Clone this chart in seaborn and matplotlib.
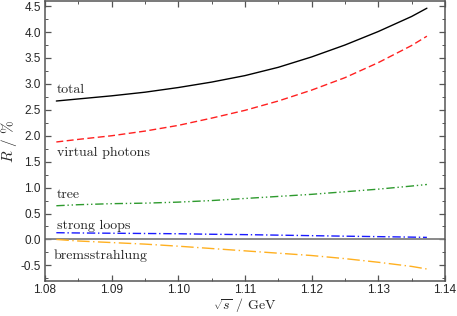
import numpy as np
import pandas as pd
import matplotlib
matplotlib.use("Agg")
import matplotlib.pyplot as plt
import seaborn as sns
from matplotlib.ticker import MultipleLocator

# sqrt(s) in GeV
sqrt_s = [1.0817, 1.085, 1.09, 1.095, 1.10, 1.105, 1.11, 1.115, 1.12, 1.125, 1.13, 1.135, 1.1373]

# R in percent
total = [2.67, 2.71, 2.77, 2.84, 2.93, 3.035, 3.16, 3.32, 3.52, 3.75, 4.01, 4.30, 4.46]
virtual_photons = [1.88, 1.93, 2.00, 2.09, 2.20, 2.34, 2.49, 2.67, 2.88, 3.12, 3.41, 3.74, 3.92]
tree = [0.65, 0.67, 0.69, 0.70, 0.72, 0.75, 0.79, 0.83, 0.87, 0.92, 0.97, 1.03, 1.06]
strong_loops = [0.13, 0.125, 0.12, 0.115, 0.11, 0.10, 0.093, 0.083, 0.073, 0.063, 0.054, 0.045, 0.04]
bremsstrahlung = [0.0, -0.03, -0.06, -0.09, -0.13, -0.175, -0.22, -0.265, -0.31, -0.37, -0.44, -0.52, -0.57]

series = [
    ("total", total, "black", "-", 2.88),
    ("virtual photons", virtual_photons, "#ff2020", (0, (5, 2.5)), 1.66),
    ("tree", tree, "#2e9a2e", (0, (6, 2, 1, 2, 1, 2)), 0.85),
    ("strong loops", strong_loops, "#1a1aff", (0, (6, 2, 1, 2)), 0.27),
    ("bremsstrahlung", bremsstrahlung, "#ffb020", (0, (9, 2.5, 1, 2.5)), -0.31),
]

sns.set_style("ticks")
plt.rcParams["mathtext.fontset"] = "cm"

fig = plt.figure(figsize=(4.57, 3.16), dpi=100)
ax = fig.add_axes([0.0985, 0.111, 0.875, 0.886])

ax.axhline(0, color="#808080", lw=1.3, zorder=1)

for name, vals, color, ls, label_y in series:
    df = pd.DataFrame({"x": sqrt_s, "y": vals})
    sns.lineplot(data=df, x="x", y="y", ax=ax, color=color, linestyle=ls,
                 lw=1.0, sort=False, errorbar=None, zorder=3)
    ax.text(1.0818 if name != "bremsstrahlung" else 1.0813, label_y, name,
            family="cmr10", fontsize=10, va="center", ha="left")

ax.set_xlim(1.08, 1.14)
ax.set_ylim(-0.8, 4.6)
ax.xaxis.set_major_locator(MultipleLocator(0.01))
ax.xaxis.set_minor_locator(MultipleLocator(0.005))
ax.yaxis.set_major_locator(MultipleLocator(0.5))
ax.yaxis.set_minor_locator(MultipleLocator(0.25))
ax.xaxis.set_major_formatter(matplotlib.ticker.FormatStrFormatter("%.2f"))
ax.yaxis.set_major_formatter(matplotlib.ticker.FuncFormatter(lambda v, p: f"{v:.1f}"))

ax.tick_params(which="both", direction="in", top=True, right=True,
               color="#555555", labelsize=8.5, pad=3)
ax.tick_params(axis="x", which="both", pad=2.5)
ax.tick_params(which="major", length=4.5, width=0.9)
ax.tick_params(which="minor", length=2.5, width=0.7)
for lbl in ax.get_xticklabels() + ax.get_yticklabels():
    lbl.set_family("Liberation Sans")
for sp in ax.spines.values():
    sp.set_color("#555555")
    sp.set_linewidth(1.1)

ax.set_xlabel(r"$\sqrt{s}$ / GeV", family="cmr10", fontsize=10, labelpad=0)
ax.set_ylabel(r"$R$ / %", family="cmr10", fontsize=11, labelpad=1)

fig.savefig("out.png", dpi=100)
